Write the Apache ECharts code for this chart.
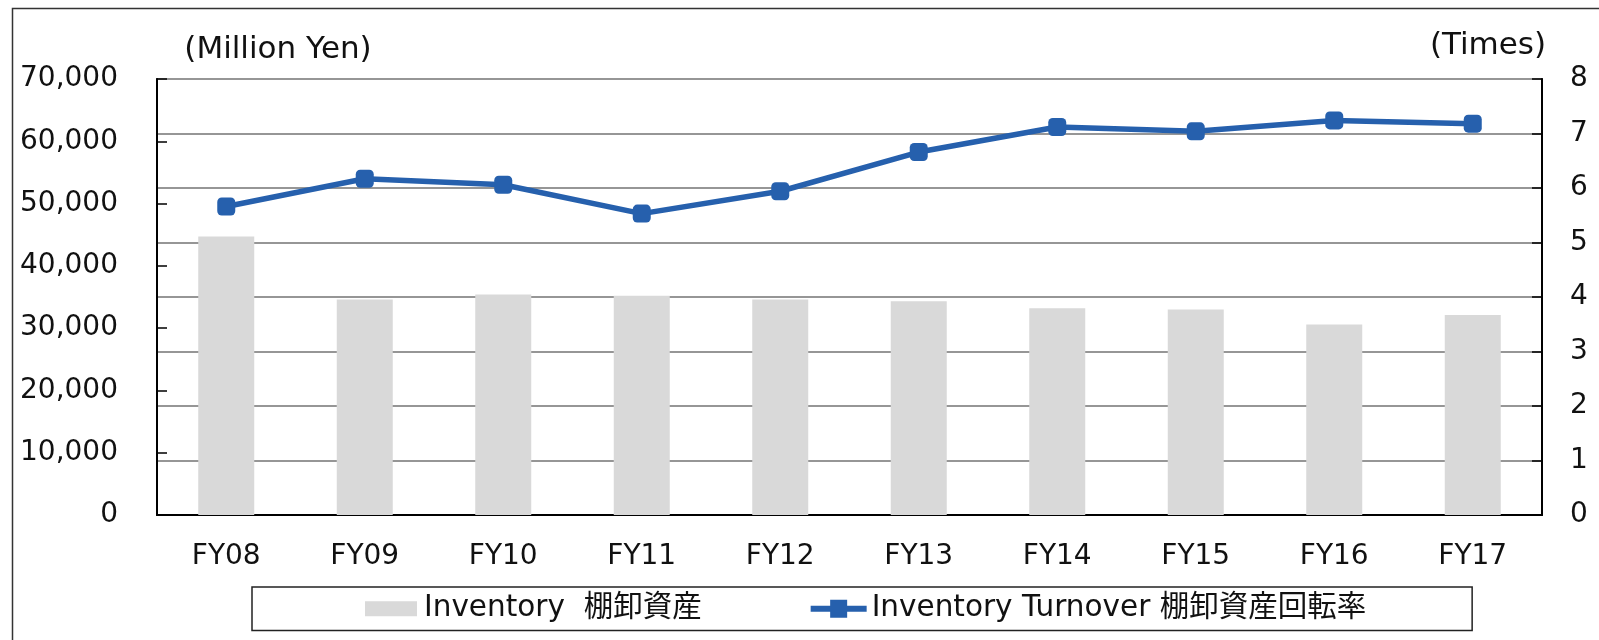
<!DOCTYPE html>
<html>
<head>
<meta charset="utf-8">
<script src="https://cdn.jsdelivr.net/npm/echarts@6/dist/echarts.min.js"></script>
<style>
  html, body { margin: 0; padding: 0; background: #fff; }
  #chart { width: 1599px; height: 640px; }
</style>
</head>
<body>
<div id="chart"></div>
<script>
const categories = ['FY08', 'FY09', 'FY10', 'FY11', 'FY12', 'FY13', 'FY14', 'FY15', 'FY16', 'FY17']
const inventory = [44700, 34600, 35400, 35200, 34600, 34300, 33200, 33000, 30600, 32100]
const turnover = [5.66, 6.17, 6.06, 5.53, 5.94, 6.66, 7.12, 7.04, 7.24, 7.18]

const FONT = '"DejaVu Sans", "Noto Sans CJK JP", sans-serif'
const COLOR_BAR = '#d9d9d9'
const COLOR_LINE = '#2660ad'

// legend icons drawn in a 56x18 box
const ICON_BAR = 'path://M0,0L0,0M2,1.5L54,1.5L54,16.5L2,16.5ZM56,18L56,18'
const ICON_LINE = 'path://M0,6L56,6L56,12L0,12ZM19.5,0L36.5,0L36.5,18L19.5,18Z'

function buildOption() {
  return {
    backgroundColor: '#fff',
    textStyle: { fontFamily: FONT, color: '#111' },
    graphic: [
      {
        type: 'rect',
        shape: { x: 12.5, y: 8.5, width: 1700, height: 700 },
        style: { fill: 'none', stroke: '#333', lineWidth: 1.5 },
        silent: true
      },
      {
        type: 'text',
        x: 278, y: 50,
        style: { text: '(Million Yen)', font: '31px ' + FONT, fill: '#111', align: 'center', verticalAlign: 'middle' }
      },
      {
        type: 'text',
        x: 1488, y: 46,
        style: { text: '(Times)', font: '31px ' + FONT, fill: '#111', align: 'center', verticalAlign: 'middle' }
      }
    ],
    legend: {
      left: 252,
      top: 587,
      padding: [7, 106, 7, 111],
      borderColor: '#222',
      borderWidth: 1.5,
      itemGap: 109,
      itemWidth: 56,
      itemHeight: 18,
      textStyle: { fontSize: 29.5, fontFamily: FONT, color: '#111' },
      data: [
        { name: 'Inventory  棚卸資産', icon: ICON_BAR },
        { name: 'Inventory Turnover 棚卸資産回転率', icon: ICON_LINE }
      ]
    },
    grid: {
      left: 157,
      top: 79,
      right: 57,
      bottom: 125,
      show: true,
      borderColor: '#000',
      borderWidth: 1.5
    },
    xAxis: {
      type: 'category',
      data: categories,
      boundaryGap: true,
      axisLine: { lineStyle: { color: '#000', width: 2 } },
      axisTick: { inside: true, length: 10, lineStyle: { color: '#000', width: 1.5 } },
      axisLabel: { fontSize: 28, margin: 28, color: '#111' }
    },
    yAxis: [
      {
        type: 'value',
        min: 0,
        max: 70000,
        interval: 10000,
        axisLine: { show: true, lineStyle: { color: '#000', width: 2 } },
        axisTick: { show: true, inside: true, length: 10, lineStyle: { color: '#000', width: 1.5 } },
        splitLine: { show: false },
        axisLabel: {
          fontSize: 28,
          margin: 39,
          color: '#111',
          formatter: v => v.toLocaleString('en-US')
        }
      },
      {
        type: 'value',
        min: 0,
        max: 8,
        interval: 1,
        position: 'right',
        axisLine: { show: true, lineStyle: { color: '#000', width: 2 } },
        axisTick: { show: true, inside: true, length: 10, lineStyle: { color: '#000', width: 1.5 } },
        splitLine: { show: true, lineStyle: { color: '#969696', width: 2 } },
        axisLabel: { fontSize: 28, margin: 28, color: '#111' }
      }
    ],
    series: [
      {
        name: 'Inventory  棚卸資産',
        type: 'bar',
        yAxisIndex: 0,
        barWidth: 56,
        itemStyle: { color: COLOR_BAR },
        data: inventory
      },
      {
        name: 'Inventory Turnover 棚卸資産回転率',
        type: 'line',
        yAxisIndex: 1,
        symbol: 'roundRect',
        symbolSize: 18,
        lineStyle: { color: COLOR_LINE, width: 5.5 },
        itemStyle: { color: COLOR_LINE },
        z: 5,
        data: turnover
      }
    ]
  }
}

const chart = echarts.init(document.getElementById('chart'), null, { renderer: 'canvas' })
chart.setOption(buildOption())
</script>
</body>
</html>
